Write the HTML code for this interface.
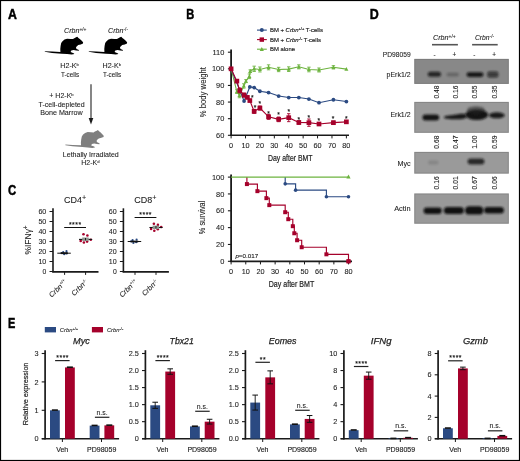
<!DOCTYPE html><html><head><meta charset="utf-8"><style>html,body{margin:0;padding:0;background:#fff;}svg{display:block;will-change:transform;}text{font-family:"Liberation Sans", sans-serif;}</style></head><body>
<svg width="520" height="461" viewBox="0 0 520 461">
<rect x="0" y="0" width="520" height="461" fill="#fff" />
<defs><filter id="bl" x="-50%" y="-50%" width="200%" height="200%"><feGaussianBlur stdDeviation="1.2"/></filter><filter id="bl2" x="-50%" y="-50%" width="200%" height="200%"><feGaussianBlur stdDeviation="1.0"/></filter><filter id="bl3" x="-50%" y="-50%" width="200%" height="200%"><feGaussianBlur stdDeviation="0.8"/></filter></defs>
<text x="8" y="18.5" font-size="13.9" text-anchor="start" font-weight="bold" font-style="normal" fill="#000" stroke="#000" stroke-width="0.45" textLength="8.9" lengthAdjust="spacingAndGlyphs">A</text>
<text x="186.2" y="18.5" font-size="13.9" text-anchor="start" font-weight="bold" font-style="normal" fill="#000" stroke="#000" stroke-width="0.45" textLength="8" lengthAdjust="spacingAndGlyphs">B</text>
<text x="8.1" y="195.1" font-size="13.9" text-anchor="start" font-weight="bold" font-style="normal" fill="#000" stroke="#000" stroke-width="0.45" textLength="8.2" lengthAdjust="spacingAndGlyphs">C</text>
<text x="369.8" y="18.5" font-size="13.9" text-anchor="start" font-weight="bold" font-style="normal" fill="#000" stroke="#000" stroke-width="0.45" textLength="9" lengthAdjust="spacingAndGlyphs">D</text>
<text x="8.1" y="327.7" font-size="13.9" text-anchor="start" font-weight="bold" font-style="normal" fill="#000" stroke="#000" stroke-width="0.45" textLength="7.3" lengthAdjust="spacingAndGlyphs">E</text>
<defs><path id="mouse" d="M-11.2,17.2 L-4,17.6 L4.4,17.9 L4.3,15 L4.6,12.1 L5.2,9.1 L6.5,7.2 L8.5,5.5 L11.1,4.7 L14.4,4.9 L17,5 L18.3,4.2 L19.6,3.6 L20.6,3 L21.2,2.7 L21.8,3.2 L22.4,3.9 L23.8,4.9 L25.5,6.5 L27.1,8.3 L27,9.6 L24.8,10.4 L22.2,11.1 L20.6,12.4 L19.9,13.7 L20.6,14.9 L22.9,15.9 L22.9,16.8 L20.2,16.6 L17.6,16 L15.3,16.6 L14.6,18 L17.6,19.2 L18.4,20.1 L15.7,20.6 L11.1,20 L5.8,19.7 L-4,18.9 L-11.2,17.8Z"/></defs>
<use href="#mouse" transform="translate(56,34)" fill="#000"/>
<use href="#mouse" transform="translate(100,34)" fill="#000"/>
<use href="#mouse" transform="translate(76.6,127.4)" fill="#7f7f7f"/>
<text x="64" y="33.1" font-size="7.2" fill="#222" stroke="#222" stroke-width="0.08" text-anchor="start"><tspan font-style="italic" textLength="15.4" lengthAdjust="spacingAndGlyphs">Crbn</tspan><tspan font-size="4.9" dy="-2.4">+/+</tspan></text>
<text x="108" y="33.1" font-size="7.2" fill="#222" stroke="#222" stroke-width="0.08" text-anchor="start"><tspan font-style="italic" textLength="15.4" lengthAdjust="spacingAndGlyphs">Crbn</tspan><tspan font-size="4.9" dy="-2.4">-/-</tspan></text>
<text x="69.6" y="68.4" font-size="7.1" fill="#222" stroke="#222" stroke-width="0.08" text-anchor="middle">H2-K<tspan font-size="4.26" dy="-2.6">b</tspan></text>
<text x="70" y="76.8" font-size="7.1" text-anchor="middle" font-weight="normal" font-style="normal" fill="#222" stroke="#222" stroke-width="0.08" textLength="18.2" lengthAdjust="spacingAndGlyphs">T-cells</text>
<text x="111.8" y="68.4" font-size="7.1" fill="#222" stroke="#222" stroke-width="0.08" text-anchor="middle">H2-K<tspan font-size="4.26" dy="-2.6">b</tspan></text>
<text x="112" y="76.8" font-size="7.1" text-anchor="middle" font-weight="normal" font-style="normal" fill="#222" stroke="#222" stroke-width="0.08" textLength="18.2" lengthAdjust="spacingAndGlyphs">T-cells</text>
<line x1="91" y1="84.3" x2="91" y2="119" stroke="#444" stroke-width="1.3" />
<polygon points="88.7,118 93.3,118 91,124.6" fill="#1a1a1a"/>
<text x="61.5" y="98.2" font-size="7" fill="#222" stroke="#222" stroke-width="0.08" text-anchor="middle">+ H2-K<tspan font-size="4.2" dy="-2.6">b</tspan></text>
<text x="61.6" y="106.6" font-size="7" text-anchor="middle" font-weight="normal" font-style="normal" fill="#222" stroke="#222" stroke-width="0.08" textLength="46.2" lengthAdjust="spacingAndGlyphs">T-cell-depleted</text>
<text x="61.5" y="115.3" font-size="7" text-anchor="middle" font-weight="normal" font-style="normal" fill="#222" stroke="#222" stroke-width="0.08" textLength="42.6" lengthAdjust="spacingAndGlyphs">Bone Marrow</text>
<text x="90.8" y="156.8" font-size="7" text-anchor="middle" font-weight="normal" font-style="normal" fill="#222" stroke="#222" stroke-width="0.08" textLength="56" lengthAdjust="spacingAndGlyphs">Lethally Irradiated</text>
<text x="90.4" y="165.2" font-size="7" fill="#222" stroke="#222" stroke-width="0.08" text-anchor="middle">H2-K<tspan font-size="4.2" dy="-2.6">d</tspan></text>
<line x1="257" y1="30.1" x2="266.8" y2="30.1" stroke="#2b4a82" stroke-width="1.1" />
<circle cx="261.8" cy="30.1" r="1.99" fill="#2b4a82"/>
<text x="270" y="32.2" font-size="5.8" text-anchor="start" font-weight="normal" font-style="normal" fill="#222" stroke="#222" stroke-width="0.16" textLength="52.9" lengthAdjust="spacingAndGlyphs">BM + <tspan font-style="italic">Crbn</tspan><tspan font-size="3.9" dy="-1.9">+/+</tspan><tspan dy="1.9"> T-cells</tspan></text>
<line x1="257" y1="39.6" x2="266.8" y2="39.6" stroke="#a5012b" stroke-width="1.1" />
<rect x="259.6" y="37.4" width="4.41" height="4.41" fill="#a5012b" />
<text x="270" y="41.7" font-size="5.8" text-anchor="start" font-weight="normal" font-style="normal" fill="#222" stroke="#222" stroke-width="0.16" textLength="51" lengthAdjust="spacingAndGlyphs">BM + <tspan font-style="italic">Crbn</tspan><tspan font-size="3.9" dy="-1.9">-/-</tspan><tspan dy="1.9"> T-cells</tspan></text>
<line x1="257" y1="49.2" x2="266.8" y2="49.2" stroke="#6db33f" stroke-width="1.1" />
<polygon points="261.8,46.89 259.7,50.88 263.9,50.88" fill="#6db33f"/>
<text x="270" y="51.3" font-size="5.8" text-anchor="start" font-weight="normal" font-style="normal" fill="#222" stroke="#222" stroke-width="0.16" textLength="25" lengthAdjust="spacingAndGlyphs">BM alone</text>
<line x1="231.1" y1="49.5" x2="231.1" y2="136.1" stroke="#1a1a1a" stroke-width="1.8" />
<line x1="230.2" y1="135.2" x2="349" y2="135.2" stroke="#1a1a1a" stroke-width="1.6" />
<line x1="227.9" y1="135.3" x2="231.1" y2="135.3" stroke="#1a1a1a" stroke-width="1.1" />
<text x="224.3" y="137.9" font-size="7.4" text-anchor="end" font-weight="normal" font-style="normal" fill="#222" stroke="#222" stroke-width="0.08">60</text>
<line x1="227.9" y1="118.68" x2="231.1" y2="118.68" stroke="#1a1a1a" stroke-width="1.1" />
<text x="224.3" y="121.28" font-size="7.4" text-anchor="end" font-weight="normal" font-style="normal" fill="#222" stroke="#222" stroke-width="0.08">70</text>
<line x1="227.9" y1="102.06" x2="231.1" y2="102.06" stroke="#1a1a1a" stroke-width="1.1" />
<text x="224.3" y="104.66" font-size="7.4" text-anchor="end" font-weight="normal" font-style="normal" fill="#222" stroke="#222" stroke-width="0.08">80</text>
<line x1="227.9" y1="85.44" x2="231.1" y2="85.44" stroke="#1a1a1a" stroke-width="1.1" />
<text x="224.3" y="88.04" font-size="7.4" text-anchor="end" font-weight="normal" font-style="normal" fill="#222" stroke="#222" stroke-width="0.08">90</text>
<line x1="227.9" y1="68.82" x2="231.1" y2="68.82" stroke="#1a1a1a" stroke-width="1.1" />
<text x="224.3" y="71.42" font-size="7.4" text-anchor="end" font-weight="normal" font-style="normal" fill="#222" stroke="#222" stroke-width="0.08">100</text>
<line x1="227.9" y1="52.2" x2="231.1" y2="52.2" stroke="#1a1a1a" stroke-width="1.1" />
<text x="224.3" y="54.8" font-size="7.4" text-anchor="end" font-weight="normal" font-style="normal" fill="#222" stroke="#222" stroke-width="0.08">110</text>
<line x1="231.1" y1="135.2" x2="231.1" y2="138.4" stroke="#1a1a1a" stroke-width="1" />
<text x="231.1" y="148" font-size="7.3" text-anchor="middle" font-weight="normal" font-style="normal" fill="#222" stroke="#222" stroke-width="0.08">0</text>
<line x1="245.51" y1="135.2" x2="245.51" y2="138.4" stroke="#1a1a1a" stroke-width="1" />
<text x="245.51" y="148" font-size="7.3" text-anchor="middle" font-weight="normal" font-style="normal" fill="#222" stroke="#222" stroke-width="0.08">10</text>
<line x1="259.92" y1="135.2" x2="259.92" y2="138.4" stroke="#1a1a1a" stroke-width="1" />
<text x="259.92" y="148" font-size="7.3" text-anchor="middle" font-weight="normal" font-style="normal" fill="#222" stroke="#222" stroke-width="0.08">20</text>
<line x1="274.33" y1="135.2" x2="274.33" y2="138.4" stroke="#1a1a1a" stroke-width="1" />
<text x="274.33" y="148" font-size="7.3" text-anchor="middle" font-weight="normal" font-style="normal" fill="#222" stroke="#222" stroke-width="0.08">30</text>
<line x1="288.74" y1="135.2" x2="288.74" y2="138.4" stroke="#1a1a1a" stroke-width="1" />
<text x="288.74" y="148" font-size="7.3" text-anchor="middle" font-weight="normal" font-style="normal" fill="#222" stroke="#222" stroke-width="0.08">40</text>
<line x1="303.15" y1="135.2" x2="303.15" y2="138.4" stroke="#1a1a1a" stroke-width="1" />
<text x="303.15" y="148" font-size="7.3" text-anchor="middle" font-weight="normal" font-style="normal" fill="#222" stroke="#222" stroke-width="0.08">50</text>
<line x1="317.56" y1="135.2" x2="317.56" y2="138.4" stroke="#1a1a1a" stroke-width="1" />
<text x="317.56" y="148" font-size="7.3" text-anchor="middle" font-weight="normal" font-style="normal" fill="#222" stroke="#222" stroke-width="0.08">60</text>
<line x1="331.97" y1="135.2" x2="331.97" y2="138.4" stroke="#1a1a1a" stroke-width="1" />
<text x="331.97" y="148" font-size="7.3" text-anchor="middle" font-weight="normal" font-style="normal" fill="#222" stroke="#222" stroke-width="0.08">70</text>
<line x1="346.38" y1="135.2" x2="346.38" y2="138.4" stroke="#1a1a1a" stroke-width="1" />
<text x="346.38" y="148" font-size="7.3" text-anchor="middle" font-weight="normal" font-style="normal" fill="#222" stroke="#222" stroke-width="0.08">80</text>
<text x="290.3" y="160.8" font-size="9.3" text-anchor="middle" font-weight="normal" font-style="normal" fill="#222" stroke="#222" stroke-width="0.2" textLength="44.6" lengthAdjust="spacingAndGlyphs">Day after BMT</text>
<text transform="translate(205.6,92.2) rotate(-90)" font-size="8.6" text-anchor="middle" font-weight="normal" font-style="normal" fill="#222" stroke="#222" stroke-width="0.08" textLength="50.2" lengthAdjust="spacingAndGlyphs">% body weight</text>
<path d="M231.1,68.82 L236.86,91.59 L239.46,95.41 L243.78,85.94 L245.94,81.12 L249.4,76.3 L250.27,71.15 L254.16,68.82 L259.92,69.48 L268.57,67.32 L278.65,69.48 L288.74,69.15 L298.83,66.83 L308.91,69.48 L319,69.98 L333.41,67.32 L346.38,69.15" fill="none" stroke="#6db33f" stroke-width="1.1"/>
<line x1="236.86" y1="89.76" x2="236.86" y2="93.42" stroke="#6db33f" stroke-width="0.9" />
<line x1="235.16" y1="89.76" x2="238.56" y2="89.76" stroke="#6db33f" stroke-width="0.9" />
<line x1="235.16" y1="93.42" x2="238.56" y2="93.42" stroke="#6db33f" stroke-width="0.9" />
<line x1="239.46" y1="93.09" x2="239.46" y2="97.74" stroke="#6db33f" stroke-width="0.9" />
<line x1="237.76" y1="93.09" x2="241.16" y2="93.09" stroke="#6db33f" stroke-width="0.9" />
<line x1="237.76" y1="97.74" x2="241.16" y2="97.74" stroke="#6db33f" stroke-width="0.9" />
<line x1="243.78" y1="83.78" x2="243.78" y2="88.1" stroke="#6db33f" stroke-width="0.9" />
<line x1="242.08" y1="83.78" x2="245.48" y2="83.78" stroke="#6db33f" stroke-width="0.9" />
<line x1="242.08" y1="88.1" x2="245.48" y2="88.1" stroke="#6db33f" stroke-width="0.9" />
<line x1="245.94" y1="79.62" x2="245.94" y2="82.61" stroke="#6db33f" stroke-width="0.9" />
<line x1="244.24" y1="79.62" x2="247.64" y2="79.62" stroke="#6db33f" stroke-width="0.9" />
<line x1="244.24" y1="82.61" x2="247.64" y2="82.61" stroke="#6db33f" stroke-width="0.9" />
<line x1="249.4" y1="73.97" x2="249.4" y2="78.63" stroke="#6db33f" stroke-width="0.9" />
<line x1="247.7" y1="73.97" x2="251.1" y2="73.97" stroke="#6db33f" stroke-width="0.9" />
<line x1="247.7" y1="78.63" x2="251.1" y2="78.63" stroke="#6db33f" stroke-width="0.9" />
<line x1="250.27" y1="69.82" x2="250.27" y2="72.48" stroke="#6db33f" stroke-width="0.9" />
<line x1="248.57" y1="69.82" x2="251.97" y2="69.82" stroke="#6db33f" stroke-width="0.9" />
<line x1="248.57" y1="72.48" x2="251.97" y2="72.48" stroke="#6db33f" stroke-width="0.9" />
<line x1="254.16" y1="66.16" x2="254.16" y2="71.48" stroke="#6db33f" stroke-width="0.9" />
<line x1="252.46" y1="66.16" x2="255.86" y2="66.16" stroke="#6db33f" stroke-width="0.9" />
<line x1="252.46" y1="71.48" x2="255.86" y2="71.48" stroke="#6db33f" stroke-width="0.9" />
<line x1="259.92" y1="66.99" x2="259.92" y2="71.98" stroke="#6db33f" stroke-width="0.9" />
<line x1="258.22" y1="66.99" x2="261.62" y2="66.99" stroke="#6db33f" stroke-width="0.9" />
<line x1="258.22" y1="71.98" x2="261.62" y2="71.98" stroke="#6db33f" stroke-width="0.9" />
<line x1="268.57" y1="64.83" x2="268.57" y2="69.82" stroke="#6db33f" stroke-width="0.9" />
<line x1="266.87" y1="64.83" x2="270.27" y2="64.83" stroke="#6db33f" stroke-width="0.9" />
<line x1="266.87" y1="69.82" x2="270.27" y2="69.82" stroke="#6db33f" stroke-width="0.9" />
<line x1="278.65" y1="67.32" x2="278.65" y2="71.65" stroke="#6db33f" stroke-width="0.9" />
<line x1="276.95" y1="67.32" x2="280.35" y2="67.32" stroke="#6db33f" stroke-width="0.9" />
<line x1="276.95" y1="71.65" x2="280.35" y2="71.65" stroke="#6db33f" stroke-width="0.9" />
<line x1="288.74" y1="66.83" x2="288.74" y2="71.48" stroke="#6db33f" stroke-width="0.9" />
<line x1="287.04" y1="66.83" x2="290.44" y2="66.83" stroke="#6db33f" stroke-width="0.9" />
<line x1="287.04" y1="71.48" x2="290.44" y2="71.48" stroke="#6db33f" stroke-width="0.9" />
<line x1="298.83" y1="64.83" x2="298.83" y2="68.82" stroke="#6db33f" stroke-width="0.9" />
<line x1="297.13" y1="64.83" x2="300.53" y2="64.83" stroke="#6db33f" stroke-width="0.9" />
<line x1="297.13" y1="68.82" x2="300.53" y2="68.82" stroke="#6db33f" stroke-width="0.9" />
<line x1="308.91" y1="67.16" x2="308.91" y2="71.81" stroke="#6db33f" stroke-width="0.9" />
<line x1="307.21" y1="67.16" x2="310.61" y2="67.16" stroke="#6db33f" stroke-width="0.9" />
<line x1="307.21" y1="71.81" x2="310.61" y2="71.81" stroke="#6db33f" stroke-width="0.9" />
<line x1="319" y1="67.99" x2="319" y2="71.98" stroke="#6db33f" stroke-width="0.9" />
<line x1="317.3" y1="67.99" x2="320.7" y2="67.99" stroke="#6db33f" stroke-width="0.9" />
<line x1="317.3" y1="71.98" x2="320.7" y2="71.98" stroke="#6db33f" stroke-width="0.9" />
<line x1="333.41" y1="65.66" x2="333.41" y2="68.99" stroke="#6db33f" stroke-width="0.9" />
<line x1="331.71" y1="65.66" x2="335.11" y2="65.66" stroke="#6db33f" stroke-width="0.9" />
<line x1="331.71" y1="68.99" x2="335.11" y2="68.99" stroke="#6db33f" stroke-width="0.9" />
<polygon points="231.1,66.62 229.1,70.42 233.1,70.42" fill="#6db33f"/>
<polygon points="236.86,89.39 234.86,93.19 238.86,93.19" fill="#6db33f"/>
<polygon points="239.46,93.21 237.46,97.01 241.46,97.01" fill="#6db33f"/>
<polygon points="243.78,83.74 241.78,87.54 245.78,87.54" fill="#6db33f"/>
<polygon points="245.94,78.92 243.94,82.72 247.94,82.72" fill="#6db33f"/>
<polygon points="249.4,74.1 247.4,77.9 251.4,77.9" fill="#6db33f"/>
<polygon points="250.27,68.95 248.27,72.75 252.27,72.75" fill="#6db33f"/>
<polygon points="254.16,66.62 252.16,70.42 256.16,70.42" fill="#6db33f"/>
<polygon points="259.92,67.28 257.92,71.08 261.92,71.08" fill="#6db33f"/>
<polygon points="268.57,65.12 266.57,68.92 270.57,68.92" fill="#6db33f"/>
<polygon points="278.65,67.28 276.65,71.08 280.65,71.08" fill="#6db33f"/>
<polygon points="288.74,66.95 286.74,70.75 290.74,70.75" fill="#6db33f"/>
<polygon points="298.83,64.63 296.83,68.43 300.83,68.43" fill="#6db33f"/>
<polygon points="308.91,67.28 306.91,71.08 310.91,71.08" fill="#6db33f"/>
<polygon points="319,67.78 317,71.58 321,71.58" fill="#6db33f"/>
<polygon points="333.41,65.12 331.41,68.92 335.41,68.92" fill="#6db33f"/>
<polygon points="346.38,66.95 344.38,70.75 348.38,70.75" fill="#6db33f"/>
<path d="M231.1,68.82 L244.07,101.06 L249.83,86.94 L254.16,87.6 L259.92,91.26 L268.57,92.59 L278.65,96.08 L288.74,97.57 L298.83,97.57 L308.91,99.07 L319,102.72 L333.41,99.73 L346.38,101.56" fill="none" stroke="#2b4a82" stroke-width="1.1"/>
<circle cx="231.1" cy="68.82" r="1.9" fill="#2b4a82"/>
<circle cx="244.07" cy="101.06" r="1.9" fill="#2b4a82"/>
<circle cx="249.83" cy="86.94" r="1.9" fill="#2b4a82"/>
<circle cx="254.16" cy="87.6" r="1.9" fill="#2b4a82"/>
<circle cx="259.92" cy="91.26" r="1.9" fill="#2b4a82"/>
<circle cx="268.57" cy="92.59" r="1.9" fill="#2b4a82"/>
<circle cx="278.65" cy="96.08" r="1.9" fill="#2b4a82"/>
<circle cx="288.74" cy="97.57" r="1.9" fill="#2b4a82"/>
<circle cx="298.83" cy="97.57" r="1.9" fill="#2b4a82"/>
<circle cx="308.91" cy="99.07" r="1.9" fill="#2b4a82"/>
<circle cx="319" cy="102.72" r="1.9" fill="#2b4a82"/>
<circle cx="333.41" cy="99.73" r="1.9" fill="#2b4a82"/>
<circle cx="346.38" cy="101.56" r="1.9" fill="#2b4a82"/>
<path d="M231.1,68.82 L236.86,81.12 L239.75,90.43 L244.07,95.08 L247.38,97.41 L249.83,100.56 L254.16,111.37 L259.92,108.04 L268.57,116.85 L278.65,119.34 L288.74,117.68 L298.83,122.5 L308.91,122.67 L319,124 L333.41,122.67 L346.38,121.84" fill="none" stroke="#a5012b" stroke-width="1.1"/>
<line x1="239.75" y1="87.93" x2="239.75" y2="92.92" stroke="#a5012b" stroke-width="0.9" />
<line x1="238.05" y1="87.93" x2="241.45" y2="87.93" stroke="#a5012b" stroke-width="0.9" />
<line x1="238.05" y1="92.92" x2="241.45" y2="92.92" stroke="#a5012b" stroke-width="0.9" />
<line x1="244.07" y1="93.09" x2="244.07" y2="97.07" stroke="#a5012b" stroke-width="0.9" />
<line x1="242.37" y1="93.09" x2="245.77" y2="93.09" stroke="#a5012b" stroke-width="0.9" />
<line x1="242.37" y1="97.07" x2="245.77" y2="97.07" stroke="#a5012b" stroke-width="0.9" />
<line x1="254.16" y1="109.37" x2="254.16" y2="113.36" stroke="#a5012b" stroke-width="0.9" />
<line x1="252.46" y1="109.37" x2="255.86" y2="109.37" stroke="#a5012b" stroke-width="0.9" />
<line x1="252.46" y1="113.36" x2="255.86" y2="113.36" stroke="#a5012b" stroke-width="0.9" />
<line x1="259.92" y1="106.05" x2="259.92" y2="110.04" stroke="#a5012b" stroke-width="0.9" />
<line x1="258.22" y1="106.05" x2="261.62" y2="106.05" stroke="#a5012b" stroke-width="0.9" />
<line x1="258.22" y1="110.04" x2="261.62" y2="110.04" stroke="#a5012b" stroke-width="0.9" />
<line x1="268.57" y1="114.36" x2="268.57" y2="119.34" stroke="#a5012b" stroke-width="0.9" />
<line x1="266.87" y1="114.36" x2="270.27" y2="114.36" stroke="#a5012b" stroke-width="0.9" />
<line x1="266.87" y1="119.34" x2="270.27" y2="119.34" stroke="#a5012b" stroke-width="0.9" />
<line x1="278.65" y1="117.02" x2="278.65" y2="121.67" stroke="#a5012b" stroke-width="0.9" />
<line x1="276.95" y1="117.02" x2="280.35" y2="117.02" stroke="#a5012b" stroke-width="0.9" />
<line x1="276.95" y1="121.67" x2="280.35" y2="121.67" stroke="#a5012b" stroke-width="0.9" />
<line x1="288.74" y1="113.69" x2="288.74" y2="121.67" stroke="#a5012b" stroke-width="0.9" />
<line x1="287.04" y1="113.69" x2="290.44" y2="113.69" stroke="#a5012b" stroke-width="0.9" />
<line x1="287.04" y1="121.67" x2="290.44" y2="121.67" stroke="#a5012b" stroke-width="0.9" />
<line x1="298.83" y1="120.84" x2="298.83" y2="124.16" stroke="#a5012b" stroke-width="0.9" />
<line x1="297.13" y1="120.84" x2="300.53" y2="120.84" stroke="#a5012b" stroke-width="0.9" />
<line x1="297.13" y1="124.16" x2="300.53" y2="124.16" stroke="#a5012b" stroke-width="0.9" />
<line x1="308.91" y1="119.01" x2="308.91" y2="126.33" stroke="#a5012b" stroke-width="0.9" />
<line x1="307.21" y1="119.01" x2="310.61" y2="119.01" stroke="#a5012b" stroke-width="0.9" />
<line x1="307.21" y1="126.33" x2="310.61" y2="126.33" stroke="#a5012b" stroke-width="0.9" />
<line x1="319" y1="122.67" x2="319" y2="125.33" stroke="#a5012b" stroke-width="0.9" />
<line x1="317.3" y1="122.67" x2="320.7" y2="122.67" stroke="#a5012b" stroke-width="0.9" />
<line x1="317.3" y1="125.33" x2="320.7" y2="125.33" stroke="#a5012b" stroke-width="0.9" />
<line x1="333.41" y1="121.17" x2="333.41" y2="124.16" stroke="#a5012b" stroke-width="0.9" />
<line x1="331.71" y1="121.17" x2="335.11" y2="121.17" stroke="#a5012b" stroke-width="0.9" />
<line x1="331.71" y1="124.16" x2="335.11" y2="124.16" stroke="#a5012b" stroke-width="0.9" />
<rect x="228.75" y="66.47" width="4.7" height="4.7" fill="#a5012b" />
<rect x="234.51" y="78.77" width="4.7" height="4.7" fill="#a5012b" />
<rect x="237.39" y="88.07" width="4.7" height="4.7" fill="#a5012b" />
<rect x="241.72" y="92.73" width="4.7" height="4.7" fill="#a5012b" />
<rect x="245.03" y="95.05" width="4.7" height="4.7" fill="#a5012b" />
<rect x="247.48" y="98.21" width="4.7" height="4.7" fill="#a5012b" />
<rect x="251.8" y="109.02" width="4.7" height="4.7" fill="#a5012b" />
<rect x="257.57" y="105.69" width="4.7" height="4.7" fill="#a5012b" />
<rect x="266.21" y="114.5" width="4.7" height="4.7" fill="#a5012b" />
<rect x="276.3" y="116.99" width="4.7" height="4.7" fill="#a5012b" />
<rect x="286.39" y="115.33" width="4.7" height="4.7" fill="#a5012b" />
<rect x="296.48" y="120.15" width="4.7" height="4.7" fill="#a5012b" />
<rect x="306.56" y="120.32" width="4.7" height="4.7" fill="#a5012b" />
<rect x="316.65" y="121.65" width="4.7" height="4.7" fill="#a5012b" />
<rect x="331.06" y="120.32" width="4.7" height="4.7" fill="#a5012b" />
<rect x="344.03" y="119.49" width="4.7" height="4.7" fill="#a5012b" />
<text x="252.3" y="100.2" font-size="6.6" text-anchor="middle" font-weight="normal" font-style="normal" fill="#111" stroke="#111" stroke-width="0.15">*</text>
<text x="255" y="110.3" font-size="6.6" text-anchor="middle" font-weight="normal" font-style="normal" fill="#111" stroke="#111" stroke-width="0.15">*</text>
<text x="259.8" y="105.9" font-size="6.6" text-anchor="middle" font-weight="normal" font-style="normal" fill="#111" stroke="#111" stroke-width="0.15">*</text>
<text x="268.5" y="115.5" font-size="6.6" text-anchor="middle" font-weight="normal" font-style="normal" fill="#111" stroke="#111" stroke-width="0.15">*</text>
<text x="278.6" y="116.9" font-size="6.6" text-anchor="middle" font-weight="normal" font-style="normal" fill="#111" stroke="#111" stroke-width="0.15">*</text>
<text x="288.7" y="114.3" font-size="6.6" text-anchor="middle" font-weight="normal" font-style="normal" fill="#111" stroke="#111" stroke-width="0.15">*</text>
<text x="298.7" y="121.7" font-size="6.6" text-anchor="middle" font-weight="normal" font-style="normal" fill="#111" stroke="#111" stroke-width="0.15">*</text>
<text x="308.9" y="120.3" font-size="6.6" text-anchor="middle" font-weight="normal" font-style="normal" fill="#111" stroke="#111" stroke-width="0.15">*</text>
<text x="318.7" y="123" font-size="6.6" text-anchor="middle" font-weight="normal" font-style="normal" fill="#111" stroke="#111" stroke-width="0.15">*</text>
<text x="333" y="121.3" font-size="6.6" text-anchor="middle" font-weight="normal" font-style="normal" fill="#111" stroke="#111" stroke-width="0.15">*</text>
<text x="346.2" y="121" font-size="6.6" text-anchor="middle" font-weight="normal" font-style="normal" fill="#111" stroke="#111" stroke-width="0.15">*</text>
<line x1="231.1" y1="174.4" x2="231.1" y2="262" stroke="#1a1a1a" stroke-width="1.8" />
<line x1="230.2" y1="261.4" x2="352" y2="261.4" stroke="#1a1a1a" stroke-width="1.6" />
<line x1="227.9" y1="261.3" x2="231.1" y2="261.3" stroke="#1a1a1a" stroke-width="1.1" />
<text x="224.3" y="263.9" font-size="7.4" text-anchor="end" font-weight="normal" font-style="normal" fill="#222" stroke="#222" stroke-width="0.08">0</text>
<line x1="227.9" y1="244.46" x2="231.1" y2="244.46" stroke="#1a1a1a" stroke-width="1.1" />
<text x="224.3" y="247.06" font-size="7.4" text-anchor="end" font-weight="normal" font-style="normal" fill="#222" stroke="#222" stroke-width="0.08">20</text>
<line x1="227.9" y1="227.62" x2="231.1" y2="227.62" stroke="#1a1a1a" stroke-width="1.1" />
<text x="224.3" y="230.22" font-size="7.4" text-anchor="end" font-weight="normal" font-style="normal" fill="#222" stroke="#222" stroke-width="0.08">40</text>
<line x1="227.9" y1="210.78" x2="231.1" y2="210.78" stroke="#1a1a1a" stroke-width="1.1" />
<text x="224.3" y="213.38" font-size="7.4" text-anchor="end" font-weight="normal" font-style="normal" fill="#222" stroke="#222" stroke-width="0.08">60</text>
<line x1="227.9" y1="193.94" x2="231.1" y2="193.94" stroke="#1a1a1a" stroke-width="1.1" />
<text x="224.3" y="196.54" font-size="7.4" text-anchor="end" font-weight="normal" font-style="normal" fill="#222" stroke="#222" stroke-width="0.08">80</text>
<line x1="227.9" y1="177.1" x2="231.1" y2="177.1" stroke="#1a1a1a" stroke-width="1.1" />
<text x="224.3" y="179.7" font-size="7.4" text-anchor="end" font-weight="normal" font-style="normal" fill="#222" stroke="#222" stroke-width="0.08">100</text>
<line x1="231.1" y1="261.3" x2="231.1" y2="264.4" stroke="#1a1a1a" stroke-width="1" />
<text x="231.1" y="274" font-size="7.3" text-anchor="middle" font-weight="normal" font-style="normal" fill="#222" stroke="#222" stroke-width="0.08">0</text>
<line x1="245.78" y1="261.3" x2="245.78" y2="264.4" stroke="#1a1a1a" stroke-width="1" />
<text x="245.78" y="274" font-size="7.3" text-anchor="middle" font-weight="normal" font-style="normal" fill="#222" stroke="#222" stroke-width="0.08">10</text>
<line x1="260.46" y1="261.3" x2="260.46" y2="264.4" stroke="#1a1a1a" stroke-width="1" />
<text x="260.46" y="274" font-size="7.3" text-anchor="middle" font-weight="normal" font-style="normal" fill="#222" stroke="#222" stroke-width="0.08">20</text>
<line x1="275.14" y1="261.3" x2="275.14" y2="264.4" stroke="#1a1a1a" stroke-width="1" />
<text x="275.14" y="274" font-size="7.3" text-anchor="middle" font-weight="normal" font-style="normal" fill="#222" stroke="#222" stroke-width="0.08">30</text>
<line x1="289.82" y1="261.3" x2="289.82" y2="264.4" stroke="#1a1a1a" stroke-width="1" />
<text x="289.82" y="274" font-size="7.3" text-anchor="middle" font-weight="normal" font-style="normal" fill="#222" stroke="#222" stroke-width="0.08">40</text>
<line x1="304.5" y1="261.3" x2="304.5" y2="264.4" stroke="#1a1a1a" stroke-width="1" />
<text x="304.5" y="274" font-size="7.3" text-anchor="middle" font-weight="normal" font-style="normal" fill="#222" stroke="#222" stroke-width="0.08">50</text>
<line x1="319.18" y1="261.3" x2="319.18" y2="264.4" stroke="#1a1a1a" stroke-width="1" />
<text x="319.18" y="274" font-size="7.3" text-anchor="middle" font-weight="normal" font-style="normal" fill="#222" stroke="#222" stroke-width="0.08">60</text>
<line x1="333.86" y1="261.3" x2="333.86" y2="264.4" stroke="#1a1a1a" stroke-width="1" />
<text x="333.86" y="274" font-size="7.3" text-anchor="middle" font-weight="normal" font-style="normal" fill="#222" stroke="#222" stroke-width="0.08">70</text>
<line x1="348.54" y1="261.3" x2="348.54" y2="264.4" stroke="#1a1a1a" stroke-width="1" />
<text x="348.54" y="274" font-size="7.3" text-anchor="middle" font-weight="normal" font-style="normal" fill="#222" stroke="#222" stroke-width="0.08">80</text>
<text x="291.5" y="287.4" font-size="9.3" text-anchor="middle" font-weight="normal" font-style="normal" fill="#222" stroke="#222" stroke-width="0.2" textLength="45.6" lengthAdjust="spacingAndGlyphs">Day after BMT</text>
<text transform="translate(205.4,217.4) rotate(-90)" font-size="8.6" text-anchor="middle" font-weight="normal" font-style="normal" fill="#222" stroke="#222" stroke-width="0.08" textLength="33.5" lengthAdjust="spacingAndGlyphs">% survival</text>
<text x="235.4" y="257.8" font-size="6.2" fill="#222" stroke="#222" stroke-width="0.12" textLength="22.8" lengthAdjust="spacingAndGlyphs"><tspan font-style="italic">p</tspan>=0.017</text>
<path d="M285.2,177.1 H285.2 V183.84 H295.6 V190.15 H326.4 V196.72 H348.5" fill="none" stroke="#2b4a82" stroke-width="1.15"/>
<circle cx="285.2" cy="183.84" r="1.8" fill="#2b4a82"/>
<circle cx="295.6" cy="190.15" r="1.8" fill="#2b4a82"/>
<circle cx="326.4" cy="196.72" r="1.8" fill="#2b4a82"/>
<circle cx="348.5" cy="196.72" r="1.8" fill="#2b4a82"/>
<path d="M246.9,177.1 H246.9 V184.09 H257.4 V191.16 H266.4 V198.15 H269.3 V205.14 H285.2 V212.21 H288.3 V219.2 H292.8 V226.19 H294.3 V233.26 H297.1 V240.25 H301.7 V247.24 H326.4 V254.31 H348.5 V261.3 H348.5" fill="none" stroke="#a5012b" stroke-width="1.15"/>
<rect x="244.91" y="182.09" width="3.99" height="3.99" fill="#a5012b" />
<rect x="255.4" y="189.17" width="3.99" height="3.99" fill="#a5012b" />
<rect x="264.4" y="196.16" width="3.99" height="3.99" fill="#a5012b" />
<rect x="267.31" y="203.14" width="3.99" height="3.99" fill="#a5012b" />
<rect x="283.2" y="210.22" width="3.99" height="3.99" fill="#a5012b" />
<rect x="286.31" y="217.2" width="3.99" height="3.99" fill="#a5012b" />
<rect x="290.81" y="224.19" width="3.99" height="3.99" fill="#a5012b" />
<rect x="292.31" y="231.27" width="3.99" height="3.99" fill="#a5012b" />
<rect x="295.11" y="238.25" width="3.99" height="3.99" fill="#a5012b" />
<rect x="299.7" y="245.24" width="3.99" height="3.99" fill="#a5012b" />
<rect x="324.4" y="252.32" width="3.99" height="3.99" fill="#a5012b" />
<rect x="346.5" y="259.31" width="3.99" height="3.99" fill="#a5012b" />
<rect x="346.5" y="259.31" width="3.99" height="3.99" fill="#a5012b" />
<line x1="231.1" y1="177.1" x2="348.5" y2="177.1" stroke="#6db33f" stroke-width="1.2" />
<polygon points="348.5,174.49 346.4,178.48 350.6,178.48" fill="#6db33f"/>
<line x1="53" y1="208.3" x2="53" y2="272.2" stroke="#1a1a1a" stroke-width="1.6" />
<line x1="52.2" y1="271.85" x2="98.5" y2="271.85" stroke="#1a1a1a" stroke-width="1.8" />
<line x1="49.5" y1="271.5" x2="53" y2="271.5" stroke="#1a1a1a" stroke-width="1" />
<text x="46.3" y="273.8" font-size="6.8" text-anchor="end" font-weight="normal" font-style="normal" fill="#222" stroke="#222" stroke-width="0.08">0</text>
<line x1="49.5" y1="261.5" x2="53" y2="261.5" stroke="#1a1a1a" stroke-width="1" />
<text x="46.3" y="263.8" font-size="6.8" text-anchor="end" font-weight="normal" font-style="normal" fill="#222" stroke="#222" stroke-width="0.08" textLength="7.9" lengthAdjust="spacingAndGlyphs">10</text>
<line x1="49.5" y1="251.5" x2="53" y2="251.5" stroke="#1a1a1a" stroke-width="1" />
<text x="46.3" y="253.8" font-size="6.8" text-anchor="end" font-weight="normal" font-style="normal" fill="#222" stroke="#222" stroke-width="0.08" textLength="7.9" lengthAdjust="spacingAndGlyphs">20</text>
<line x1="49.5" y1="241.5" x2="53" y2="241.5" stroke="#1a1a1a" stroke-width="1" />
<text x="46.3" y="243.8" font-size="6.8" text-anchor="end" font-weight="normal" font-style="normal" fill="#222" stroke="#222" stroke-width="0.08" textLength="7.9" lengthAdjust="spacingAndGlyphs">30</text>
<line x1="49.5" y1="231.5" x2="53" y2="231.5" stroke="#1a1a1a" stroke-width="1" />
<text x="46.3" y="233.8" font-size="6.8" text-anchor="end" font-weight="normal" font-style="normal" fill="#222" stroke="#222" stroke-width="0.08" textLength="7.9" lengthAdjust="spacingAndGlyphs">40</text>
<line x1="49.5" y1="221.5" x2="53" y2="221.5" stroke="#1a1a1a" stroke-width="1" />
<text x="46.3" y="223.8" font-size="6.8" text-anchor="end" font-weight="normal" font-style="normal" fill="#222" stroke="#222" stroke-width="0.08" textLength="7.9" lengthAdjust="spacingAndGlyphs">50</text>
<line x1="49.5" y1="211.5" x2="53" y2="211.5" stroke="#1a1a1a" stroke-width="1" />
<text x="46.3" y="213.8" font-size="6.8" text-anchor="end" font-weight="normal" font-style="normal" fill="#222" stroke="#222" stroke-width="0.08" textLength="7.9" lengthAdjust="spacingAndGlyphs">60</text>
<line x1="64.6" y1="271.6" x2="64.6" y2="274.9" stroke="#1a1a1a" stroke-width="1" />
<line x1="85.6" y1="271.6" x2="85.6" y2="274.9" stroke="#1a1a1a" stroke-width="1" />
<text x="64" y="202.7" font-size="9.2" fill="#222" stroke="#222" stroke-width="0.08"><tspan textLength="18" lengthAdjust="spacingAndGlyphs">CD4</tspan><tspan font-size="7.2" dy="-2.4">+</tspan></text>
<line x1="64.2" y1="227.5" x2="86" y2="227.5" stroke="#111" stroke-width="1" />
<text x="70.28" y="227.1" font-size="6.8" text-anchor="middle" fill="#111" stroke="#111" stroke-width="0.15">*</text>
<text x="73.43" y="227.1" font-size="6.8" text-anchor="middle" fill="#111" stroke="#111" stroke-width="0.15">*</text>
<text x="76.58" y="227.1" font-size="6.8" text-anchor="middle" fill="#111" stroke="#111" stroke-width="0.15">*</text>
<text x="79.73" y="227.1" font-size="6.8" text-anchor="middle" fill="#111" stroke="#111" stroke-width="0.15">*</text>
<circle cx="63.2" cy="252.2" r="1.1" fill="#2b4a82"/>
<circle cx="66.5" cy="251.2" r="1.1" fill="#2b4a82"/>
<circle cx="64.2" cy="254.2" r="1.1" fill="#2b4a82"/>
<circle cx="66.6" cy="253.4" r="1.1" fill="#2b4a82"/>
<circle cx="61.6" cy="253" r="1.1" fill="#2b4a82"/>
<line x1="57.3" y1="253.2" x2="70.8" y2="253.2" stroke="#111" stroke-width="1" />
<rect x="60.8" y="252.3" width="7" height="1.8" fill="#111" />
<circle cx="83.5" cy="234.2" r="1.3" fill="#a5012b"/>
<circle cx="87.4" cy="235.5" r="1.3" fill="#a5012b"/>
<circle cx="80.7" cy="240.9" r="1.3" fill="#a5012b"/>
<circle cx="83.9" cy="242.5" r="1.3" fill="#a5012b"/>
<circle cx="87.1" cy="241.6" r="1.3" fill="#a5012b"/>
<circle cx="90.8" cy="239.7" r="1.3" fill="#a5012b"/>
<line x1="79" y1="239.4" x2="92.2" y2="239.4" stroke="#111" stroke-width="1.1" />
<rect x="82.2" y="237.5" width="6.5" height="3.4" fill="#8f9490" />
<rect x="85.1" y="238" width="0.9" height="2.4" fill="#111" />
<text transform="translate(67.2,282.4) rotate(-45)" font-size="7.2" fill="#222" stroke="#222" stroke-width="0.08" text-anchor="end"><tspan font-style="italic">Crbn</tspan><tspan font-size="4.3" dy="-2.6">+/+</tspan></text>
<text transform="translate(88.2,282.4) rotate(-45)" font-size="7.2" fill="#222" stroke="#222" stroke-width="0.08" text-anchor="end"><tspan font-style="italic">Crbn</tspan><tspan font-size="4.3" dy="-2.6">-/-</tspan></text>
<line x1="123.4" y1="208.3" x2="123.4" y2="272.2" stroke="#1a1a1a" stroke-width="1.6" />
<line x1="122.6" y1="271.85" x2="168.9" y2="271.85" stroke="#1a1a1a" stroke-width="1.8" />
<line x1="119.9" y1="271.5" x2="123.4" y2="271.5" stroke="#1a1a1a" stroke-width="1" />
<text x="116.7" y="273.8" font-size="6.8" text-anchor="end" font-weight="normal" font-style="normal" fill="#222" stroke="#222" stroke-width="0.08">0</text>
<line x1="119.9" y1="261.5" x2="123.4" y2="261.5" stroke="#1a1a1a" stroke-width="1" />
<text x="116.7" y="263.8" font-size="6.8" text-anchor="end" font-weight="normal" font-style="normal" fill="#222" stroke="#222" stroke-width="0.08" textLength="7.9" lengthAdjust="spacingAndGlyphs">10</text>
<line x1="119.9" y1="251.5" x2="123.4" y2="251.5" stroke="#1a1a1a" stroke-width="1" />
<text x="116.7" y="253.8" font-size="6.8" text-anchor="end" font-weight="normal" font-style="normal" fill="#222" stroke="#222" stroke-width="0.08" textLength="7.9" lengthAdjust="spacingAndGlyphs">20</text>
<line x1="119.9" y1="241.5" x2="123.4" y2="241.5" stroke="#1a1a1a" stroke-width="1" />
<text x="116.7" y="243.8" font-size="6.8" text-anchor="end" font-weight="normal" font-style="normal" fill="#222" stroke="#222" stroke-width="0.08" textLength="7.9" lengthAdjust="spacingAndGlyphs">30</text>
<line x1="119.9" y1="231.5" x2="123.4" y2="231.5" stroke="#1a1a1a" stroke-width="1" />
<text x="116.7" y="233.8" font-size="6.8" text-anchor="end" font-weight="normal" font-style="normal" fill="#222" stroke="#222" stroke-width="0.08" textLength="7.9" lengthAdjust="spacingAndGlyphs">40</text>
<line x1="119.9" y1="221.5" x2="123.4" y2="221.5" stroke="#1a1a1a" stroke-width="1" />
<text x="116.7" y="223.8" font-size="6.8" text-anchor="end" font-weight="normal" font-style="normal" fill="#222" stroke="#222" stroke-width="0.08" textLength="7.9" lengthAdjust="spacingAndGlyphs">50</text>
<line x1="119.9" y1="211.5" x2="123.4" y2="211.5" stroke="#1a1a1a" stroke-width="1" />
<text x="116.7" y="213.8" font-size="6.8" text-anchor="end" font-weight="normal" font-style="normal" fill="#222" stroke="#222" stroke-width="0.08" textLength="7.9" lengthAdjust="spacingAndGlyphs">60</text>
<line x1="135" y1="271.6" x2="135" y2="274.9" stroke="#1a1a1a" stroke-width="1" />
<line x1="156" y1="271.6" x2="156" y2="274.9" stroke="#1a1a1a" stroke-width="1" />
<text x="134.2" y="202.7" font-size="9.2" fill="#222" stroke="#222" stroke-width="0.08"><tspan textLength="18" lengthAdjust="spacingAndGlyphs">CD8</tspan><tspan font-size="7.2" dy="-2.4">+</tspan></text>
<line x1="134.6" y1="217.5" x2="156.4" y2="217.5" stroke="#111" stroke-width="1" />
<text x="140.68" y="217.1" font-size="6.8" text-anchor="middle" fill="#111" stroke="#111" stroke-width="0.15">*</text>
<text x="143.83" y="217.1" font-size="6.8" text-anchor="middle" fill="#111" stroke="#111" stroke-width="0.15">*</text>
<text x="146.98" y="217.1" font-size="6.8" text-anchor="middle" fill="#111" stroke="#111" stroke-width="0.15">*</text>
<text x="150.12" y="217.1" font-size="6.8" text-anchor="middle" fill="#111" stroke="#111" stroke-width="0.15">*</text>
<circle cx="132.6" cy="240.2" r="1.1" fill="#2b4a82"/>
<circle cx="136.6" cy="239.6" r="1.1" fill="#2b4a82"/>
<circle cx="133.4" cy="243" r="1.1" fill="#2b4a82"/>
<circle cx="136.2" cy="242.2" r="1.1" fill="#2b4a82"/>
<circle cx="131" cy="241.4" r="1.1" fill="#2b4a82"/>
<line x1="127.7" y1="241.5" x2="141.2" y2="241.5" stroke="#111" stroke-width="1" />
<rect x="131.2" y="240.6" width="7" height="1.8" fill="#111" />
<circle cx="153.9" cy="223.8" r="1.3" fill="#a5012b"/>
<circle cx="157.9" cy="224.9" r="1.3" fill="#a5012b"/>
<circle cx="151.1" cy="228.9" r="1.3" fill="#a5012b"/>
<circle cx="154.3" cy="230.8" r="1.3" fill="#a5012b"/>
<circle cx="157.8" cy="229.3" r="1.3" fill="#a5012b"/>
<circle cx="161.2" cy="227" r="1.3" fill="#a5012b"/>
<line x1="149.4" y1="227.5" x2="162.6" y2="227.5" stroke="#111" stroke-width="1.1" />
<rect x="152.6" y="225.6" width="6.5" height="3.4" fill="#8f9490" />
<rect x="155.5" y="226.1" width="0.9" height="2.4" fill="#111" />
<text transform="translate(137.6,282.4) rotate(-45)" font-size="7.2" fill="#222" stroke="#222" stroke-width="0.08" text-anchor="end"><tspan font-style="italic">Crbn</tspan><tspan font-size="4.3" dy="-2.6">+/+</tspan></text>
<text transform="translate(158.6,282.4) rotate(-45)" font-size="7.2" fill="#222" stroke="#222" stroke-width="0.08" text-anchor="end"><tspan font-style="italic">Crbn</tspan><tspan font-size="4.3" dy="-2.6">-/-</tspan></text>
<text transform="translate(31.2,240.0) rotate(-90)" font-size="9.2" text-anchor="middle" fill="#222" stroke="#222" stroke-width="0.08"><tspan textLength="25.5" lengthAdjust="spacingAndGlyphs">%IFN&#947;</tspan><tspan font-size="6.4" dy="-3.2">+</tspan></text>
<text x="433" y="40.2" font-size="7.2" fill="#222" stroke="#222" stroke-width="0.08" text-anchor="start"><tspan font-style="italic" textLength="15.6" lengthAdjust="spacingAndGlyphs">Crbn</tspan><tspan font-size="4.9" dy="-2.7">+/+</tspan></text>
<text x="474.9" y="40.2" font-size="7.2" fill="#222" stroke="#222" stroke-width="0.08" text-anchor="start"><tspan font-style="italic" textLength="14.6" lengthAdjust="spacingAndGlyphs">Crbn</tspan><tspan font-size="4.9" dy="-2.7">-/-</tspan></text>
<line x1="432" y1="44.7" x2="457.9" y2="44.7" stroke="#555" stroke-width="1.6" />
<line x1="472.1" y1="44.7" x2="497.7" y2="44.7" stroke="#555" stroke-width="1.6" />
<text x="410.6" y="56.7" font-size="7" text-anchor="end" font-weight="normal" font-style="normal" fill="#222" stroke="#222" stroke-width="0.08" textLength="27.8" lengthAdjust="spacingAndGlyphs">PD98059</text>
<text x="434.5" y="56.5" font-size="6.4" text-anchor="middle" font-weight="normal" font-style="normal" fill="#222" stroke="#222" stroke-width="0.08">-</text>
<text x="454.4" y="56.5" font-size="6.4" text-anchor="middle" font-weight="normal" font-style="normal" fill="#222" stroke="#222" stroke-width="0.08">+</text>
<text x="474.3" y="56.5" font-size="6.4" text-anchor="middle" font-weight="normal" font-style="normal" fill="#222" stroke="#222" stroke-width="0.08">-</text>
<text x="494.2" y="56.5" font-size="6.4" text-anchor="middle" font-weight="normal" font-style="normal" fill="#222" stroke="#222" stroke-width="0.08">+</text>
<rect x="414.3" y="58.9" width="94.5" height="25" fill="#888888" />
<rect x="414.8" y="59.4" width="93.5" height="24" fill="none" stroke="#6a6a6a" stroke-width="1" opacity="0.4"/>
<rect x="414.3" y="101.9" width="94.5" height="30.9" fill="#9a9a9a" />
<rect x="414.8" y="102.4" width="93.5" height="29.9" fill="none" stroke="#6a6a6a" stroke-width="1" opacity="0.4"/>
<rect x="414.3" y="151.9" width="94.5" height="21.7" fill="#9a9a9a" />
<rect x="414.8" y="152.4" width="93.5" height="20.7" fill="none" stroke="#6a6a6a" stroke-width="1" opacity="0.4"/>
<rect x="414.3" y="193.5" width="94.5" height="30.2" fill="#999999" />
<rect x="414.8" y="194" width="93.5" height="29.2" fill="none" stroke="#6a6a6a" stroke-width="1" opacity="0.4"/>
<rect x="427.8" y="71.8" width="13.2" height="5" rx="2.5" fill="#111" opacity="0.8" filter="url(#bl2)"/>
<rect x="446.6" y="72.8" width="12.4" height="3.6" rx="1.8" fill="#111" opacity="0.28" filter="url(#bl2)"/>
<rect x="466.6" y="72.2" width="16.8" height="4.8" rx="2.4" fill="#111" opacity="0.92" filter="url(#bl2)"/>
<rect x="487" y="71.4" width="11.7" height="6" rx="3" fill="#111" opacity="0.55" filter="url(#bl2)"/>
<rect x="488" y="71.6" width="9.7" height="2" rx="1" fill="#111" opacity="0.3" filter="url(#bl3)"/>
<rect x="488" y="75.2" width="9.7" height="2" rx="1" fill="#111" opacity="0.3" filter="url(#bl3)"/>
<rect x="422.4" y="114.5" width="16.8" height="6" rx="3.2" fill="#111" opacity="0.95" filter="url(#bl3)"/>
<path d="M443.8,117.2 C443.8,115.4 452,115.2 458,114.2 C462,113.5 466.5,113.4 466.5,116.2 C466.5,119.0 462,119.2 458,119.2 C452,119.2 443.8,119.4 443.8,117.2Z" fill="#111" opacity="0.92" filter="url(#bl3)"/>
<ellipse cx="476.7" cy="114.8" rx="11.6" ry="5.2" fill="#111" opacity="0.95" filter="url(#bl3)"/>
<ellipse cx="476" cy="110.2" rx="9" ry="4.0" fill="#222" opacity="0.55" filter="url(#bl)"/>
<ellipse cx="496.8" cy="115.3" rx="8.0" ry="3.0" fill="#111" opacity="0.9" filter="url(#bl3)"/>
<rect x="428" y="160.4" width="10.5" height="4" rx="2" fill="#111" opacity="0.14" filter="url(#bl)"/>
<rect x="467.6" y="158.6" width="16.8" height="6" rx="3" fill="#111" opacity="0.8" filter="url(#bl2)"/>
<rect x="423.6" y="207.6" width="18.2" height="6.4" rx="3.2" fill="#111" opacity="0.97" filter="url(#bl3)"/>
<rect x="443.8" y="207" width="20.1" height="7" rx="3.5" fill="#111" opacity="0.97" filter="url(#bl3)"/>
<rect x="464.9" y="206.3" width="18.6" height="8.3" rx="4.15" fill="#111" opacity="0.97" filter="url(#bl3)"/>
<rect x="484.1" y="206.9" width="19.8" height="6.6" rx="3.3" fill="#111" opacity="0.97" filter="url(#bl3)"/>
<text x="410.6" y="77.2" font-size="6.9" text-anchor="end" font-weight="normal" font-style="normal" fill="#222" stroke="#222" stroke-width="0.08" textLength="24" lengthAdjust="spacingAndGlyphs">pErk1/2</text>
<text x="410.6" y="117.3" font-size="6.9" text-anchor="end" font-weight="normal" font-style="normal" fill="#222" stroke="#222" stroke-width="0.08" textLength="20.2" lengthAdjust="spacingAndGlyphs">Erk1/2</text>
<text x="410.6" y="166" font-size="6.9" text-anchor="end" font-weight="normal" font-style="normal" fill="#222" stroke="#222" stroke-width="0.08" textLength="13.2" lengthAdjust="spacingAndGlyphs">Myc</text>
<text x="410.6" y="210.6" font-size="6.9" text-anchor="end" font-weight="normal" font-style="normal" fill="#222" stroke="#222" stroke-width="0.08" textLength="16.4" lengthAdjust="spacingAndGlyphs">Actin</text>
<text transform="translate(438.8,92) rotate(-90)" font-size="6.8" text-anchor="middle" font-weight="normal" font-style="normal" fill="#222" stroke="#222" stroke-width="0.12" textLength="13.1" lengthAdjust="spacingAndGlyphs">0.48</text>
<text transform="translate(457.5,92) rotate(-90)" font-size="6.8" text-anchor="middle" font-weight="normal" font-style="normal" fill="#222" stroke="#222" stroke-width="0.12" textLength="13.1" lengthAdjust="spacingAndGlyphs">0.16</text>
<text transform="translate(477.2,92) rotate(-90)" font-size="6.8" text-anchor="middle" font-weight="normal" font-style="normal" fill="#222" stroke="#222" stroke-width="0.12" textLength="13.1" lengthAdjust="spacingAndGlyphs">0.55</text>
<text transform="translate(496.8,92) rotate(-90)" font-size="6.8" text-anchor="middle" font-weight="normal" font-style="normal" fill="#222" stroke="#222" stroke-width="0.12" textLength="13.1" lengthAdjust="spacingAndGlyphs">0.35</text>
<text transform="translate(438.8,142.1) rotate(-90)" font-size="6.8" text-anchor="middle" font-weight="normal" font-style="normal" fill="#222" stroke="#222" stroke-width="0.12" textLength="13.1" lengthAdjust="spacingAndGlyphs">0.68</text>
<text transform="translate(457.5,142.1) rotate(-90)" font-size="6.8" text-anchor="middle" font-weight="normal" font-style="normal" fill="#222" stroke="#222" stroke-width="0.12" textLength="13.1" lengthAdjust="spacingAndGlyphs">0.47</text>
<text transform="translate(477.2,142.1) rotate(-90)" font-size="6.8" text-anchor="middle" font-weight="normal" font-style="normal" fill="#222" stroke="#222" stroke-width="0.12" textLength="13.1" lengthAdjust="spacingAndGlyphs">1.00</text>
<text transform="translate(496.8,142.1) rotate(-90)" font-size="6.8" text-anchor="middle" font-weight="normal" font-style="normal" fill="#222" stroke="#222" stroke-width="0.12" textLength="13.1" lengthAdjust="spacingAndGlyphs">0.59</text>
<text transform="translate(438.8,182.9) rotate(-90)" font-size="6.8" text-anchor="middle" font-weight="normal" font-style="normal" fill="#222" stroke="#222" stroke-width="0.12" textLength="13.1" lengthAdjust="spacingAndGlyphs">0.16</text>
<text transform="translate(457.5,182.9) rotate(-90)" font-size="6.8" text-anchor="middle" font-weight="normal" font-style="normal" fill="#222" stroke="#222" stroke-width="0.12" textLength="13.1" lengthAdjust="spacingAndGlyphs">0.01</text>
<text transform="translate(477.2,182.9) rotate(-90)" font-size="6.8" text-anchor="middle" font-weight="normal" font-style="normal" fill="#222" stroke="#222" stroke-width="0.12" textLength="13.1" lengthAdjust="spacingAndGlyphs">0.67</text>
<text transform="translate(496.8,182.9) rotate(-90)" font-size="6.8" text-anchor="middle" font-weight="normal" font-style="normal" fill="#222" stroke="#222" stroke-width="0.12" textLength="13.1" lengthAdjust="spacingAndGlyphs">0.06</text>
<rect x="44.8" y="327" width="11.2" height="5.4" fill="#2b4a82" />
<rect x="91.9" y="327" width="11.1" height="5.4" fill="#a5012b" />
<text x="59.8" y="331.9" font-size="6" fill="#222" stroke="#222" stroke-width="0.08" text-anchor="start"><tspan font-style="italic" textLength="12.6" lengthAdjust="spacingAndGlyphs">Crbn</tspan><tspan font-size="4" dy="-2">+/+</tspan></text>
<text x="106.9" y="331.9" font-size="6" fill="#222" stroke="#222" stroke-width="0.08" text-anchor="start"><tspan font-style="italic" textLength="12.6" lengthAdjust="spacingAndGlyphs">Crbn</tspan><tspan font-size="4" dy="-2">-/-</tspan></text>
<line x1="45.1" y1="350.2" x2="45.1" y2="439.5" stroke="#1a1a1a" stroke-width="1.7" />
<line x1="41.8" y1="438.7" x2="119.1" y2="438.7" stroke="#1a1a1a" stroke-width="1.6" />
<line x1="41.7" y1="438.7" x2="45.1" y2="438.7" stroke="#1a1a1a" stroke-width="1.1" />
<text x="38.5" y="441.3" font-size="7.3" text-anchor="end" font-weight="normal" font-style="normal" fill="#222" stroke="#222" stroke-width="0.08">0</text>
<line x1="41.7" y1="410.3" x2="45.1" y2="410.3" stroke="#1a1a1a" stroke-width="1.1" />
<text x="38.5" y="412.9" font-size="7.3" text-anchor="end" font-weight="normal" font-style="normal" fill="#222" stroke="#222" stroke-width="0.08">1</text>
<line x1="41.7" y1="381.9" x2="45.1" y2="381.9" stroke="#1a1a1a" stroke-width="1.1" />
<text x="38.5" y="384.5" font-size="7.3" text-anchor="end" font-weight="normal" font-style="normal" fill="#222" stroke="#222" stroke-width="0.08">2</text>
<line x1="41.7" y1="353.5" x2="45.1" y2="353.5" stroke="#1a1a1a" stroke-width="1.1" />
<text x="38.5" y="356.1" font-size="7.3" text-anchor="end" font-weight="normal" font-style="normal" fill="#222" stroke="#222" stroke-width="0.08">3</text>
<line x1="62.4" y1="438.7" x2="62.4" y2="442" stroke="#1a1a1a" stroke-width="1" />
<line x1="101.5" y1="438.7" x2="101.5" y2="442" stroke="#1a1a1a" stroke-width="1" />
<text x="62.2" y="451.5" font-size="7.2" text-anchor="middle" font-weight="normal" font-style="normal" fill="#222" stroke="#222" stroke-width="0.14" textLength="12.1" lengthAdjust="spacingAndGlyphs">Veh</text>
<text x="101.7" y="451.5" font-size="7.2" text-anchor="middle" font-weight="normal" font-style="normal" fill="#222" stroke="#222" stroke-width="0.14" textLength="29.2" lengthAdjust="spacingAndGlyphs">PD98059</text>
<text x="73.1" y="344.2" font-size="9.6" text-anchor="start" font-weight="normal" font-style="italic" fill="#222" stroke="#222" stroke-width="0.25" textLength="16.8" lengthAdjust="spacingAndGlyphs">Myc</text>
<rect x="50" y="410.3" width="9.8" height="28.4" fill="#2b4a82" />
<rect x="51.9" y="409.3" width="6" height="1.6" fill="#111" />
<rect x="65" y="367.42" width="9.8" height="71.28" fill="#a5012b" />
<rect x="66.9" y="366.42" width="6" height="1.6" fill="#111" />
<rect x="89.7" y="425.64" width="9.8" height="13.06" fill="#2b4a82" />
<rect x="91.6" y="424.64" width="6" height="1.6" fill="#111" />
<rect x="104.4" y="425.35" width="9.8" height="13.35" fill="#a5012b" />
<rect x="106.3" y="424.35" width="6" height="1.6" fill="#111" />
<line x1="55.1" y1="360.6" x2="69.6" y2="360.6" stroke="#222" stroke-width="1.2" />
<text x="57.68" y="359.9" font-size="6.8" text-anchor="middle" fill="#111" stroke="#111" stroke-width="0.15">*</text>
<text x="60.83" y="359.9" font-size="6.8" text-anchor="middle" fill="#111" stroke="#111" stroke-width="0.15">*</text>
<text x="63.98" y="359.9" font-size="6.8" text-anchor="middle" fill="#111" stroke="#111" stroke-width="0.15">*</text>
<text x="67.12" y="359.9" font-size="6.8" text-anchor="middle" fill="#111" stroke="#111" stroke-width="0.15">*</text>
<line x1="94.9" y1="417.3" x2="109.4" y2="417.3" stroke="#333" stroke-width="1.3" />
<text x="102" y="414.7" font-size="6.9" text-anchor="middle" font-weight="normal" font-style="normal" fill="#222" stroke="#222" stroke-width="0.08">n.s.</text>
<line x1="145.4" y1="350.2" x2="145.4" y2="439.5" stroke="#1a1a1a" stroke-width="1.7" />
<line x1="142.1" y1="438.7" x2="219.4" y2="438.7" stroke="#1a1a1a" stroke-width="1.6" />
<line x1="142" y1="438.7" x2="145.4" y2="438.7" stroke="#1a1a1a" stroke-width="1.1" />
<text x="138.8" y="441.3" font-size="7.3" text-anchor="end" font-weight="normal" font-style="normal" fill="#222" stroke="#222" stroke-width="0.08">0</text>
<line x1="142" y1="421.66" x2="145.4" y2="421.66" stroke="#1a1a1a" stroke-width="1.1" />
<text x="138.8" y="424.26" font-size="7.3" text-anchor="end" font-weight="normal" font-style="normal" fill="#222" stroke="#222" stroke-width="0.08">0.5</text>
<line x1="142" y1="404.62" x2="145.4" y2="404.62" stroke="#1a1a1a" stroke-width="1.1" />
<text x="138.8" y="407.22" font-size="7.3" text-anchor="end" font-weight="normal" font-style="normal" fill="#222" stroke="#222" stroke-width="0.08">1.0</text>
<line x1="142" y1="387.58" x2="145.4" y2="387.58" stroke="#1a1a1a" stroke-width="1.1" />
<text x="138.8" y="390.18" font-size="7.3" text-anchor="end" font-weight="normal" font-style="normal" fill="#222" stroke="#222" stroke-width="0.08">1.5</text>
<line x1="142" y1="370.54" x2="145.4" y2="370.54" stroke="#1a1a1a" stroke-width="1.1" />
<text x="138.8" y="373.14" font-size="7.3" text-anchor="end" font-weight="normal" font-style="normal" fill="#222" stroke="#222" stroke-width="0.08">2.0</text>
<line x1="142" y1="353.5" x2="145.4" y2="353.5" stroke="#1a1a1a" stroke-width="1.1" />
<text x="138.8" y="356.1" font-size="7.3" text-anchor="end" font-weight="normal" font-style="normal" fill="#222" stroke="#222" stroke-width="0.08">2.5</text>
<line x1="162.7" y1="438.7" x2="162.7" y2="442" stroke="#1a1a1a" stroke-width="1" />
<line x1="201.8" y1="438.7" x2="201.8" y2="442" stroke="#1a1a1a" stroke-width="1" />
<text x="162.5" y="451.5" font-size="7.2" text-anchor="middle" font-weight="normal" font-style="normal" fill="#222" stroke="#222" stroke-width="0.14" textLength="12.1" lengthAdjust="spacingAndGlyphs">Veh</text>
<text x="202" y="451.5" font-size="7.2" text-anchor="middle" font-weight="normal" font-style="normal" fill="#222" stroke="#222" stroke-width="0.14" textLength="29.2" lengthAdjust="spacingAndGlyphs">PD98059</text>
<text x="169.6" y="344.2" font-size="9.6" text-anchor="start" font-weight="normal" font-style="italic" fill="#222" stroke="#222" stroke-width="0.25" textLength="24.2" lengthAdjust="spacingAndGlyphs">Tbx21</text>
<rect x="150.3" y="405.3" width="9.8" height="33.4" fill="#2b4a82" />
<line x1="155.2" y1="402.23" x2="155.2" y2="408.37" stroke="#111" stroke-width="0.9" />
<line x1="152.4" y1="402.23" x2="158" y2="402.23" stroke="#111" stroke-width="1" />
<line x1="152.4" y1="408.37" x2="158" y2="408.37" stroke="#111" stroke-width="1" />
<rect x="165.3" y="371.56" width="9.8" height="67.14" fill="#a5012b" />
<line x1="170.2" y1="368.84" x2="170.2" y2="374.29" stroke="#111" stroke-width="0.9" />
<line x1="167.4" y1="368.84" x2="173" y2="368.84" stroke="#111" stroke-width="1" />
<line x1="167.4" y1="374.29" x2="173" y2="374.29" stroke="#111" stroke-width="1" />
<rect x="190" y="426.43" width="9.8" height="12.27" fill="#2b4a82" />
<rect x="191.9" y="425.43" width="6" height="1.6" fill="#111" />
<rect x="204.7" y="421.66" width="9.8" height="17.04" fill="#a5012b" />
<line x1="209.6" y1="419.27" x2="209.6" y2="424.05" stroke="#111" stroke-width="0.9" />
<line x1="206.8" y1="419.27" x2="212.4" y2="419.27" stroke="#111" stroke-width="1" />
<line x1="206.8" y1="424.05" x2="212.4" y2="424.05" stroke="#111" stroke-width="1" />
<line x1="155.4" y1="360.6" x2="169.9" y2="360.6" stroke="#222" stroke-width="1.2" />
<text x="157.98" y="359.9" font-size="6.8" text-anchor="middle" fill="#111" stroke="#111" stroke-width="0.15">*</text>
<text x="161.13" y="359.9" font-size="6.8" text-anchor="middle" fill="#111" stroke="#111" stroke-width="0.15">*</text>
<text x="164.28" y="359.9" font-size="6.8" text-anchor="middle" fill="#111" stroke="#111" stroke-width="0.15">*</text>
<text x="167.43" y="359.9" font-size="6.8" text-anchor="middle" fill="#111" stroke="#111" stroke-width="0.15">*</text>
<line x1="195.2" y1="411.3" x2="209.7" y2="411.3" stroke="#333" stroke-width="1.3" />
<text x="202.3" y="408.7" font-size="6.9" text-anchor="middle" font-weight="normal" font-style="normal" fill="#222" stroke="#222" stroke-width="0.08">n.s.</text>
<line x1="245.4" y1="350.2" x2="245.4" y2="439.5" stroke="#1a1a1a" stroke-width="1.7" />
<line x1="242.1" y1="438.7" x2="319.4" y2="438.7" stroke="#1a1a1a" stroke-width="1.6" />
<line x1="242" y1="438.7" x2="245.4" y2="438.7" stroke="#1a1a1a" stroke-width="1.1" />
<text x="238.8" y="441.3" font-size="7.3" text-anchor="end" font-weight="normal" font-style="normal" fill="#222" stroke="#222" stroke-width="0.08">0.0</text>
<line x1="242" y1="421.66" x2="245.4" y2="421.66" stroke="#1a1a1a" stroke-width="1.1" />
<text x="238.8" y="424.26" font-size="7.3" text-anchor="end" font-weight="normal" font-style="normal" fill="#222" stroke="#222" stroke-width="0.08">0.5</text>
<line x1="242" y1="404.62" x2="245.4" y2="404.62" stroke="#1a1a1a" stroke-width="1.1" />
<text x="238.8" y="407.22" font-size="7.3" text-anchor="end" font-weight="normal" font-style="normal" fill="#222" stroke="#222" stroke-width="0.08">1.0</text>
<line x1="242" y1="387.58" x2="245.4" y2="387.58" stroke="#1a1a1a" stroke-width="1.1" />
<text x="238.8" y="390.18" font-size="7.3" text-anchor="end" font-weight="normal" font-style="normal" fill="#222" stroke="#222" stroke-width="0.08">1.5</text>
<line x1="242" y1="370.54" x2="245.4" y2="370.54" stroke="#1a1a1a" stroke-width="1.1" />
<text x="238.8" y="373.14" font-size="7.3" text-anchor="end" font-weight="normal" font-style="normal" fill="#222" stroke="#222" stroke-width="0.08">2.0</text>
<line x1="242" y1="353.5" x2="245.4" y2="353.5" stroke="#1a1a1a" stroke-width="1.1" />
<text x="238.8" y="356.1" font-size="7.3" text-anchor="end" font-weight="normal" font-style="normal" fill="#222" stroke="#222" stroke-width="0.08">2.5</text>
<line x1="262.7" y1="438.7" x2="262.7" y2="442" stroke="#1a1a1a" stroke-width="1" />
<line x1="301.8" y1="438.7" x2="301.8" y2="442" stroke="#1a1a1a" stroke-width="1" />
<text x="262.5" y="451.5" font-size="7.2" text-anchor="middle" font-weight="normal" font-style="normal" fill="#222" stroke="#222" stroke-width="0.14" textLength="12.1" lengthAdjust="spacingAndGlyphs">Veh</text>
<text x="302" y="451.5" font-size="7.2" text-anchor="middle" font-weight="normal" font-style="normal" fill="#222" stroke="#222" stroke-width="0.14" textLength="29.2" lengthAdjust="spacingAndGlyphs">PD98059</text>
<text x="268.7" y="344.2" font-size="9.6" text-anchor="start" font-weight="normal" font-style="italic" fill="#222" stroke="#222" stroke-width="0.25" textLength="27.9" lengthAdjust="spacingAndGlyphs">Eomes</text>
<rect x="250.3" y="402.58" width="9.8" height="36.12" fill="#2b4a82" />
<line x1="255.2" y1="395.08" x2="255.2" y2="410.07" stroke="#111" stroke-width="0.9" />
<line x1="252.4" y1="395.08" x2="258" y2="395.08" stroke="#111" stroke-width="1" />
<line x1="252.4" y1="410.07" x2="258" y2="410.07" stroke="#111" stroke-width="1" />
<rect x="265.3" y="377.36" width="9.8" height="61.34" fill="#a5012b" />
<line x1="270.2" y1="370.88" x2="270.2" y2="383.83" stroke="#111" stroke-width="0.9" />
<line x1="267.4" y1="370.88" x2="273" y2="370.88" stroke="#111" stroke-width="1" />
<line x1="267.4" y1="383.83" x2="273" y2="383.83" stroke="#111" stroke-width="1" />
<rect x="290" y="424.39" width="9.8" height="14.31" fill="#2b4a82" />
<rect x="291.9" y="423.39" width="6" height="1.6" fill="#111" />
<rect x="304.7" y="418.93" width="9.8" height="19.77" fill="#a5012b" />
<line x1="309.6" y1="415.53" x2="309.6" y2="422.34" stroke="#111" stroke-width="0.9" />
<line x1="306.8" y1="415.53" x2="312.4" y2="415.53" stroke="#111" stroke-width="1" />
<line x1="306.8" y1="422.34" x2="312.4" y2="422.34" stroke="#111" stroke-width="1" />
<line x1="255.4" y1="362.3" x2="269.9" y2="362.3" stroke="#222" stroke-width="1.2" />
<text x="261.12" y="361.6" font-size="6.8" text-anchor="middle" fill="#111" stroke="#111" stroke-width="0.15">*</text>
<text x="264.27" y="361.6" font-size="6.8" text-anchor="middle" fill="#111" stroke="#111" stroke-width="0.15">*</text>
<line x1="295.2" y1="410.3" x2="309.7" y2="410.3" stroke="#333" stroke-width="1.3" />
<text x="302.3" y="407.7" font-size="6.9" text-anchor="middle" font-weight="normal" font-style="normal" fill="#222" stroke="#222" stroke-width="0.08">n.s.</text>
<line x1="343.9" y1="350.2" x2="343.9" y2="439.5" stroke="#1a1a1a" stroke-width="1.7" />
<line x1="340.6" y1="438.7" x2="417.9" y2="438.7" stroke="#1a1a1a" stroke-width="1.6" />
<line x1="340.5" y1="438.7" x2="343.9" y2="438.7" stroke="#1a1a1a" stroke-width="1.1" />
<text x="337.3" y="441.3" font-size="7.3" text-anchor="end" font-weight="normal" font-style="normal" fill="#222" stroke="#222" stroke-width="0.08">0</text>
<line x1="340.5" y1="421.66" x2="343.9" y2="421.66" stroke="#1a1a1a" stroke-width="1.1" />
<text x="337.3" y="424.26" font-size="7.3" text-anchor="end" font-weight="normal" font-style="normal" fill="#222" stroke="#222" stroke-width="0.08">2</text>
<line x1="340.5" y1="404.62" x2="343.9" y2="404.62" stroke="#1a1a1a" stroke-width="1.1" />
<text x="337.3" y="407.22" font-size="7.3" text-anchor="end" font-weight="normal" font-style="normal" fill="#222" stroke="#222" stroke-width="0.08">4</text>
<line x1="340.5" y1="387.58" x2="343.9" y2="387.58" stroke="#1a1a1a" stroke-width="1.1" />
<text x="337.3" y="390.18" font-size="7.3" text-anchor="end" font-weight="normal" font-style="normal" fill="#222" stroke="#222" stroke-width="0.08">6</text>
<line x1="340.5" y1="370.54" x2="343.9" y2="370.54" stroke="#1a1a1a" stroke-width="1.1" />
<text x="337.3" y="373.14" font-size="7.3" text-anchor="end" font-weight="normal" font-style="normal" fill="#222" stroke="#222" stroke-width="0.08">8</text>
<line x1="340.5" y1="353.5" x2="343.9" y2="353.5" stroke="#1a1a1a" stroke-width="1.1" />
<text x="337.3" y="356.1" font-size="7.3" text-anchor="end" font-weight="normal" font-style="normal" fill="#222" stroke="#222" stroke-width="0.08">10</text>
<line x1="361.2" y1="438.7" x2="361.2" y2="442" stroke="#1a1a1a" stroke-width="1" />
<line x1="400.3" y1="438.7" x2="400.3" y2="442" stroke="#1a1a1a" stroke-width="1" />
<text x="361" y="451.5" font-size="7.2" text-anchor="middle" font-weight="normal" font-style="normal" fill="#222" stroke="#222" stroke-width="0.14" textLength="12.1" lengthAdjust="spacingAndGlyphs">Veh</text>
<text x="400.5" y="451.5" font-size="7.2" text-anchor="middle" font-weight="normal" font-style="normal" fill="#222" stroke="#222" stroke-width="0.14" textLength="29.2" lengthAdjust="spacingAndGlyphs">PD98059</text>
<text x="370.8" y="344.2" font-size="9.6" text-anchor="start" font-weight="normal" font-style="italic" fill="#222" stroke="#222" stroke-width="0.25" textLength="20.7" lengthAdjust="spacingAndGlyphs">IFNg</text>
<rect x="348.8" y="430.18" width="9.8" height="8.52" fill="#2b4a82" />
<rect x="350.7" y="429.18" width="6" height="1.6" fill="#111" />
<rect x="363.8" y="375.65" width="9.8" height="63.05" fill="#a5012b" />
<line x1="368.7" y1="372.07" x2="368.7" y2="379.23" stroke="#111" stroke-width="0.9" />
<line x1="365.9" y1="372.07" x2="371.5" y2="372.07" stroke="#111" stroke-width="1" />
<line x1="365.9" y1="379.23" x2="371.5" y2="379.23" stroke="#111" stroke-width="1" />
<rect x="388.5" y="438" width="9.8" height="0.7" fill="#2b4a82" />
<rect x="390.4" y="437.61" width="6" height="1.6" fill="#111" />
<rect x="403.2" y="437.85" width="9.8" height="0.85" fill="#a5012b" />
<rect x="405.1" y="436.85" width="6" height="1.6" fill="#111" />
<line x1="353.9" y1="366.5" x2="368.4" y2="366.5" stroke="#222" stroke-width="1.2" />
<text x="356.47" y="365.8" font-size="6.8" text-anchor="middle" fill="#111" stroke="#111" stroke-width="0.15">*</text>
<text x="359.62" y="365.8" font-size="6.8" text-anchor="middle" fill="#111" stroke="#111" stroke-width="0.15">*</text>
<text x="362.77" y="365.8" font-size="6.8" text-anchor="middle" fill="#111" stroke="#111" stroke-width="0.15">*</text>
<text x="365.92" y="365.8" font-size="6.8" text-anchor="middle" fill="#111" stroke="#111" stroke-width="0.15">*</text>
<line x1="393.7" y1="430.8" x2="408.2" y2="430.8" stroke="#333" stroke-width="1.3" />
<text x="400.8" y="428.2" font-size="6.9" text-anchor="middle" font-weight="normal" font-style="normal" fill="#222" stroke="#222" stroke-width="0.08">n.s.</text>
<line x1="438.1" y1="350.2" x2="438.1" y2="439.5" stroke="#1a1a1a" stroke-width="1.7" />
<line x1="434.8" y1="438.7" x2="512.1" y2="438.7" stroke="#1a1a1a" stroke-width="1.6" />
<line x1="434.7" y1="438.7" x2="438.1" y2="438.7" stroke="#1a1a1a" stroke-width="1.1" />
<text x="431.5" y="441.3" font-size="7.3" text-anchor="end" font-weight="normal" font-style="normal" fill="#222" stroke="#222" stroke-width="0.08">0</text>
<line x1="434.7" y1="417.4" x2="438.1" y2="417.4" stroke="#1a1a1a" stroke-width="1.1" />
<text x="431.5" y="420" font-size="7.3" text-anchor="end" font-weight="normal" font-style="normal" fill="#222" stroke="#222" stroke-width="0.08">2</text>
<line x1="434.7" y1="396.1" x2="438.1" y2="396.1" stroke="#1a1a1a" stroke-width="1.1" />
<text x="431.5" y="398.7" font-size="7.3" text-anchor="end" font-weight="normal" font-style="normal" fill="#222" stroke="#222" stroke-width="0.08">4</text>
<line x1="434.7" y1="374.8" x2="438.1" y2="374.8" stroke="#1a1a1a" stroke-width="1.1" />
<text x="431.5" y="377.4" font-size="7.3" text-anchor="end" font-weight="normal" font-style="normal" fill="#222" stroke="#222" stroke-width="0.08">6</text>
<line x1="434.7" y1="353.5" x2="438.1" y2="353.5" stroke="#1a1a1a" stroke-width="1.1" />
<text x="431.5" y="356.1" font-size="7.3" text-anchor="end" font-weight="normal" font-style="normal" fill="#222" stroke="#222" stroke-width="0.08">8</text>
<line x1="455.4" y1="438.7" x2="455.4" y2="442" stroke="#1a1a1a" stroke-width="1" />
<line x1="494.5" y1="438.7" x2="494.5" y2="442" stroke="#1a1a1a" stroke-width="1" />
<text x="455.2" y="451.5" font-size="7.2" text-anchor="middle" font-weight="normal" font-style="normal" fill="#222" stroke="#222" stroke-width="0.14" textLength="12.1" lengthAdjust="spacingAndGlyphs">Veh</text>
<text x="494.7" y="451.5" font-size="7.2" text-anchor="middle" font-weight="normal" font-style="normal" fill="#222" stroke="#222" stroke-width="0.14" textLength="29.2" lengthAdjust="spacingAndGlyphs">PD98059</text>
<text x="462.9" y="344.2" font-size="9.6" text-anchor="start" font-weight="normal" font-style="italic" fill="#222" stroke="#222" stroke-width="0.25" textLength="25" lengthAdjust="spacingAndGlyphs">Gzmb</text>
<rect x="443" y="428.26" width="9.8" height="10.44" fill="#2b4a82" />
<rect x="444.9" y="427.26" width="6" height="1.6" fill="#111" />
<rect x="458" y="368.41" width="9.8" height="70.29" fill="#a5012b" />
<line x1="462.9" y1="367.13" x2="462.9" y2="369.69" stroke="#111" stroke-width="0.9" />
<line x1="460.1" y1="367.13" x2="465.7" y2="367.13" stroke="#111" stroke-width="1" />
<line x1="460.1" y1="369.69" x2="465.7" y2="369.69" stroke="#111" stroke-width="1" />
<rect x="482.7" y="438" width="9.8" height="0.7" fill="#2b4a82" />
<rect x="484.6" y="437.59" width="6" height="1.6" fill="#111" />
<rect x="497.4" y="435.93" width="9.8" height="2.77" fill="#a5012b" />
<rect x="499.3" y="434.93" width="6" height="1.6" fill="#111" />
<line x1="448.1" y1="360.8" x2="462.6" y2="360.8" stroke="#222" stroke-width="1.2" />
<text x="450.68" y="360.1" font-size="6.8" text-anchor="middle" fill="#111" stroke="#111" stroke-width="0.15">*</text>
<text x="453.82" y="360.1" font-size="6.8" text-anchor="middle" fill="#111" stroke="#111" stroke-width="0.15">*</text>
<text x="456.98" y="360.1" font-size="6.8" text-anchor="middle" fill="#111" stroke="#111" stroke-width="0.15">*</text>
<text x="460.12" y="360.1" font-size="6.8" text-anchor="middle" fill="#111" stroke="#111" stroke-width="0.15">*</text>
<line x1="487.9" y1="430.8" x2="502.4" y2="430.8" stroke="#333" stroke-width="1.3" />
<text x="495" y="428.2" font-size="6.9" text-anchor="middle" font-weight="normal" font-style="normal" fill="#222" stroke="#222" stroke-width="0.08">n.s.</text>
<text transform="translate(28,393.9) rotate(-90)" font-size="8" text-anchor="middle" font-weight="normal" font-style="normal" fill="#222" stroke="#222" stroke-width="0.2" textLength="62.5" lengthAdjust="spacingAndGlyphs">Relative expression</text>
<rect x="0.5" y="0.5" width="519" height="460" fill="none" stroke="#000" stroke-width="1.2"/>
</svg></body></html>
